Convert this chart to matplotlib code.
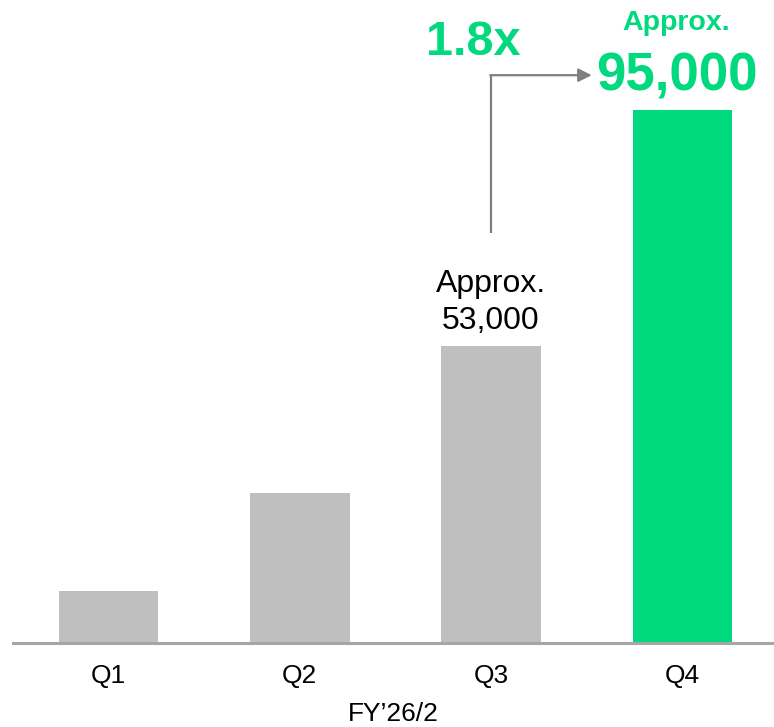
import matplotlib
matplotlib.use('Agg')
import matplotlib.pyplot as plt

plt.rcParams['font.family'] = ['Liberation Sans', 'DejaVu Sans']

quarters = ['Q1', 'Q2', 'Q3', 'Q4']
values = [9300, 26700, 53000, 95000]
bar_colors = ['#bfbfbf', '#bfbfbf', '#bfbfbf', '#00d97e']
growth_label = '1.8x'
x_title = 'FY\u201926/2'

green = '#00d97e'
arrow_gray = '#7f7f7f'

fig = plt.figure(figsize=(7.74, 7.27), dpi=100)
ax = fig.add_axes([13 / 774, 84 / 727, 761 / 774, 643 / 727])

x = list(range(len(quarters)))
ax.bar(x, values, width=0.52, color=bar_colors, zorder=2)

ax.set_xlim(-0.5, 3.48)
ax.set_ylim(0, 114600)

# baseline only
for side in ['top', 'right', 'left']:
    ax.spines[side].set_visible(False)
ax.spines['bottom'].set_color('#a6a6a6')
ax.spines['bottom'].set_linewidth(2.2)
ax.set_yticks([])
ax.set_xticks(x)
ax.set_xticklabels(quarters, fontsize=19)
ax.tick_params(axis='x', length=0, pad=15)
ax.set_xlabel(x_title, fontsize=19, labelpad=10)

# Q3 label
ax.text(2, values[2] + 3030, '53,000', ha='center', va='baseline', fontsize=23)
ax.text(2, values[2] + 9620, 'Approx.', ha='center', va='baseline', fontsize=23)

# Q4 label
ax.text(2.97, values[3] + 3550, '95,000', ha='center', va='baseline',
        fontsize=38, fontweight='bold', color=green)
ax.text(2.97, values[3] + 14250, 'Approx.', ha='center', va='baseline',
        fontsize=20.5, fontweight='bold', color=green)

# growth arrow from Q3 to Q4
y_start = 73000
y_turn = 101200
x_tip = 2.527
ax.plot([2, 2], [y_start, y_turn], color=arrow_gray, lw=1.6,
        solid_capstyle='butt', zorder=3)
ax.annotate('', xy=(x_tip, y_turn), xytext=(2 - 0.004, y_turn),
            arrowprops=dict(arrowstyle='-|>,head_length=0.8,head_width=0.4',
                            color=arrow_gray, lw=1.6, shrinkA=0, shrinkB=0))
ax.text(1.905, 104800, growth_label, ha='center', va='baseline',
        fontsize=35, fontweight='bold', color=green)

fig.savefig('out.png', dpi=100)
